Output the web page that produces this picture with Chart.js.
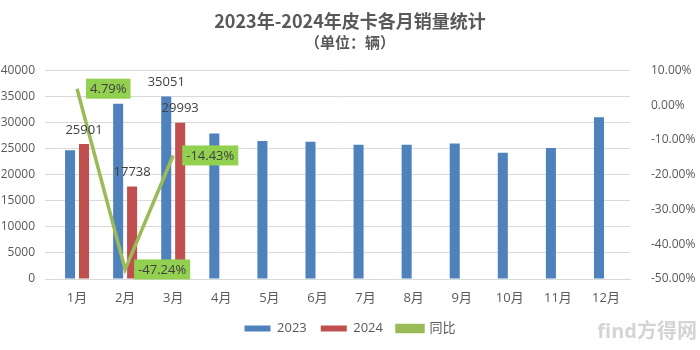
<!DOCTYPE html>
<html>
<head>
<meta charset="utf-8">
<script src="https://cdn.jsdelivr.net/npm/chart.js@4.4.1/dist/chart.umd.min.js"></script>
<style>
    html, body { margin: 0; padding: 0; background: #fff; }
    .chart-wrapper { width: 700px; height: 350px; position: relative; }
</style>
</head>
<body>
<div class="chart-wrapper"><canvas id="salesChart"></canvas></div>
<script>
const months = ['1月', '2月', '3月', '4月', '5月', '6月', '7月', '8月', '9月', '10月', '11月', '12月'];
const sales2023 = [24717, 33620, 35051, 27950, 26480, 26350, 25770, 25770, 26020, 24220, 25130, 31040];
const sales2024 = [25901, 17738, 29993, null, null, null, null, null, null, null, null, null];
const yoyPercent = [4.79, -47.24, -14.43, null, null, null, null, null, null, null, null, null];
const labelled2023 = [2];   // only March 2023 carries a value label
const leftTicks = [0, 5000, 10000, 15000, 20000, 25000, 30000, 35000, 40000];
const rightTicks = [-50, -40, -30, -20, -10, 0, 10];

const textFont = "'Open Sans', 'Noto Sans CJK SC', sans-serif";
const textColor = '#595959';

const labelsPlugin = {
    id: 'valueLabels',
    afterDatasetsDraw(chart) {
        const ctx = chart.ctx;
        ctx.save();
        ctx.font = '13px ' + textFont;
        ctx.fillStyle = '#404040';
        ctx.textAlign = 'center';
        ctx.textBaseline = 'middle';

        const meta2023 = chart.getDatasetMeta(0);
        labelled2023.forEach(i => {
            const bar = meta2023.data[i];
            ctx.fillText(String(sales2023[i]), bar.x, bar.y - 14);
        });
        const meta2024 = chart.getDatasetMeta(1);
        sales2024.forEach((v, i) => {
            if (v === null) return;
            const bar = meta2024.data[i];
            ctx.fillText(String(v), bar.x, bar.y - 14);
        });

        // yoy labels sit in green boxes to the right of each point
        const metaLine = chart.getDatasetMeta(2);
        yoyPercent.forEach((v, i) => {
            if (v === null) return;
            const pt = metaLine.data[i];
            const text = v.toFixed(2) + '%';
            const w = ctx.measureText(text).width + 8;
            const h = 20;
            const x = pt.x + 9;
            const y = pt.y - h / 2;
            ctx.fillStyle = '#92D050';
            ctx.fillRect(x, y, w, h);
            ctx.fillStyle = '#404040';
            ctx.textAlign = 'left';
            ctx.fillText(text, x + 4, pt.y + 1);
        });
        ctx.restore();
    },
    afterDraw(chart) {
        // source watermark, bottom right
        const ctx = chart.ctx;
        ctx.save();
        ctx.font = 'bold 20px ' + textFont;
        ctx.fillStyle = '#d4d4d4';
        ctx.textAlign = 'right';
        ctx.textBaseline = 'middle';
        ctx.fillText('find方得网', 697, 332);
        ctx.restore();
    }
};

const ctx = document.getElementById('salesChart').getContext('2d');
new Chart(ctx, {
    type: 'bar',
    data: {
        labels: months,
        datasets: [{
            label: '2023',
            data: sales2023,
            backgroundColor: '#4F81BD',
            yAxisID: 'y',
            order: 1,
            categoryPercentage: 0.58,
            barPercentage: 0.72
        }, {
            label: '2024',
            data: sales2024,
            backgroundColor: '#C0504D',
            yAxisID: 'y',
            order: 1,
            categoryPercentage: 0.58,
            barPercentage: 0.72
        }, {
            type: 'line',
            label: '同比',
            data: yoyPercent,
            borderColor: '#9BBB59',
            backgroundColor: '#9BBB59',
            borderWidth: 3.5,
            pointRadius: 0,
            tension: 0,
            yAxisID: 'y1',
            order: 0
        }]
    },
    options: {
        responsive: true,
        maintainAspectRatio: false,
        animation: false,
        layout: { padding: { top: 0, bottom: 5, left: 0, right: 0 } },
        plugins: {
            title: {
                display: true,
                text: '2023年-2024年皮卡各月销量统计',
                color: textColor,
                font: { family: "'Noto Sans CJK SC', sans-serif", size: 18, weight: 'bold' },
                padding: { top: 10, bottom: 0 }
            },
            subtitle: {
                display: true,
                text: '（单位：辆）',
                color: textColor,
                font: { family: "'Noto Sans CJK SC', sans-serif", size: 15, weight: 'bold' },
                padding: { top: 2, bottom: 19 }
            },
            legend: {
                position: 'bottom',
                labels: {
                    color: textColor,
                    font: { family: textFont, size: 13 },
                    boxWidth: 26,
                    boxHeight: 6,
                    padding: 14,
                    sort: (a, b) => a.datasetIndex - b.datasetIndex
                }
            },
            tooltip: { enabled: false }
        },
        scales: {
            x: {
                grid: { display: false, drawTicks: false },
                border: { color: '#d9d9d9' },
                ticks: { color: textColor, font: { family: textFont, size: 13 }, padding: 11 },
                afterFit: (scale) => { scale.height = 29; }
            },
            y: {
                position: 'left',
                min: 0,
                max: 40000,
                afterBuildTicks: (scale) => { scale.ticks = leftTicks.map(v => ({ value: v })); },
                grid: { color: '#d9d9d9' },
                border: { display: false },
                ticks: {
                    color: textColor,
                    font: { family: textFont, size: 12 },
                    padding: 10,
                    callback: (v) => String(v)
                },
                afterFit: (scale) => { scale.width = 53; }
            },
            y1: {
                position: 'right',
                min: -50,
                max: 10,
                afterBuildTicks: (scale) => { scale.ticks = rightTicks.map(v => ({ value: v })); },
                grid: { display: false },
                border: { display: false },
                ticks: {
                    color: textColor,
                    font: { family: textFont, size: 12 },
                    padding: 13,
                    callback: (v) => v.toFixed(2) + '%'
                },
                afterFit: (scale) => { scale.width = 70; }
            }
        }
    },
    plugins: [labelsPlugin]
});
</script>
</body>
</html>
